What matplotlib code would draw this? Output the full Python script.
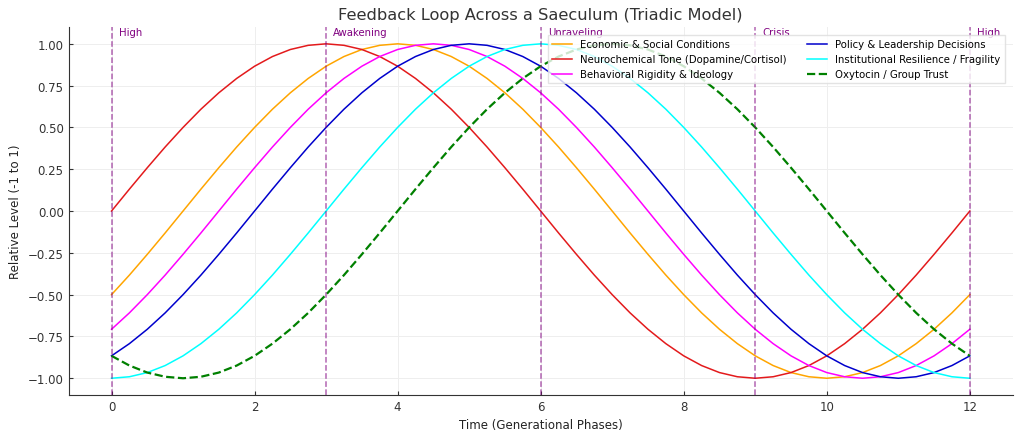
import numpy as np
import matplotlib.pyplot as plt

# time axis, sampled every quarter phase
t = np.arange(0, 12.25, 0.25)

economic = [-.5, -.383, -.259, -.131, 0, .131, .259, .383, .5, .609, .707, .793, .866,
            .924, .966, .991, 1, .991, .966, .924, .866, .793, .707, .609, .5, .383,
            .259, .131, 0, -.131, -.259, -.383, -.5, -.609, -.707, -.793, -.866, -.924,
            -.966, -.991, -1, -.991, -.966, -.924, -.866, -.793, -.707, -.609, -.5]
neuro = [0, .131, .259, .383, .5, .609, .707, .793, .866, .924, .966, .991, 1, .991,
         .966, .924, .866, .793, .707, .609, .5, .383, .259, .131, 0, -.131, -.259,
         -.383, -.5, -.609, -.707, -.793, -.866, -.924, -.966, -.991, -1, -.991, -.966,
         -.924, -.866, -.793, -.707, -.609, -.5, -.383, -.259, -.131, 0]
behavior = [-.707, -.609, -.5, -.383, -.259, -.131, 0, .131, .259, .383, .5, .609, .707,
            .793, .866, .924, .966, .991, 1, .991, .966, .924, .866, .793, .707, .609,
            .5, .383, .259, .131, 0, -.131, -.259, -.383, -.5, -.609, -.707, -.793,
            -.866, -.924, -.966, -.991, -1, -.991, -.966, -.924, -.866, -.793, -.707]
policy = [-.866, -.793, -.707, -.609, -.5, -.383, -.259, -.131, 0, .131, .259, .383, .5,
          .609, .707, .793, .866, .924, .966, .991, 1, .991, .966, .924, .866, .793,
          .707, .609, .5, .383, .259, .131, 0, -.131, -.259, -.383, -.5, -.609, -.707,
          -.793, -.866, -.924, -.966, -.991, -1, -.991, -.966, -.924, -.866]
institution = [-1, -.991, -.966, -.924, -.866, -.793, -.707, -.609, -.5, -.383, -.259,
               -.131, 0, .131, .259, .383, .5, .609, .707, .793, .866, .924, .966, .991,
               1, .991, .966, .924, .866, .793, .707, .609, .5, .383, .259, .131, 0,
               -.131, -.259, -.383, -.5, -.609, -.707, -.793, -.866, -.924, -.966, -.991, -1]
oxytocin = [-.866, -.924, -.966, -.991, -1, -.991, -.966, -.924, -.866, -.793, -.707,
            -.609, -.5, -.383, -.259, -.131, 0, .131, .259, .383, .5, .609, .707, .793,
            .866, .924, .966, .991, 1, .991, .966, .924, .866, .793, .707, .609, .5,
            .383, .259, .131, 0, -.131, -.259, -.383, -.5, -.609, -.707, -.793, -.866]

phase_pos = [0, 3, 6, 9, 12]
phase_names = ['High', 'Awakening', 'Unraveling', 'Crisis', 'High']

plt.rcParams['font.family'] = 'DejaVu Sans'
fig = plt.figure(figsize=(10.24, 4.39), dpi=100)
ax = fig.add_axes([0.067, 0.098, 0.922, 0.838])

kw = dict(lw=1.1, solid_joinstyle='round')
ax.plot(t, economic, color='orange', label='Economic & Social Conditions', **kw)
ax.plot(t, neuro, color='#e31a1c', label='Neurochemical Tone (Dopamine/Cortisol)', **kw)
ax.plot(t, behavior, color='magenta', label='Behavioral Rigidity & Ideology', **kw)
ax.plot(t, policy, color='#0000cc', label='Policy & Leadership Decisions', **kw)
ax.plot(t, institution, color='cyan', label='Institutional Resilience / Fragility', **kw)
ax.plot(t, oxytocin, color='green', lw=1.6, ls='--', label='Oxytocin / Group Trust')

for x, name in zip(phase_pos, phase_names):
    ax.axvline(x, color='purple', ls='--', lw=1.1, alpha=0.6)
    ax.text(x + 0.1, 1.07, name, color='purple', fontsize=7.3, va='center')

ax.set_title('Feedback Loop Across a Saeculum (Triadic Model)', fontsize=11.7, color='#333333')
ax.set_xlabel('Time (Generational Phases)', fontsize=8.5, color='#222222')
ax.set_ylabel('Relative Level (-1 to 1)', fontsize=8.5, color='#222222')
ax.set_yticks([-1, -0.75, -0.5, -0.25, 0, 0.25, 0.5, 0.75, 1])
ax.tick_params(direction='in', labelsize=8.5, colors='#333333', length=3)
ax.grid(True, color='#eeeeee', lw=0.7)
for s in ['top', 'right']:
    ax.spines[s].set_visible(False)
for s in ['left', 'bottom']:
    ax.spines[s].set_color('#333333')

ax.legend(loc='upper right', ncol=2, fontsize=7.3, frameon=True, framealpha=0.8,
          edgecolor='#dddddd', fancybox=False, borderaxespad=0.8)

fig.savefig('out.png', dpi=100)
